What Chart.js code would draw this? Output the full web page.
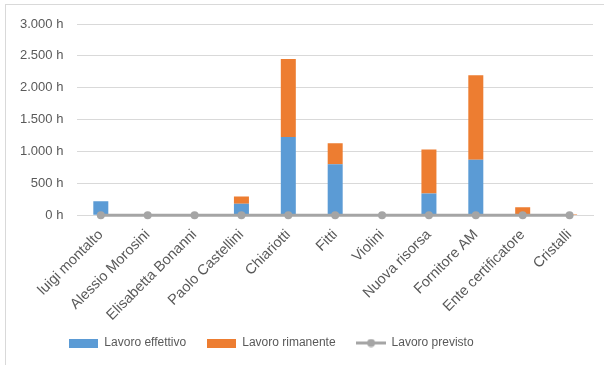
<!DOCTYPE html>
<html>
<head>
<meta charset="utf-8">
<script src="https://cdn.jsdelivr.net/npm/chart.js@4"></script>
<style>
  html, body { margin: 0; padding: 0; background: #fff; overflow: hidden; }
  #wrap { position: relative; width: 604px; height: 365px; }
  #frame { position: absolute; left: 5px; top: 4px; width: 700px; height: 500px; border: 1px solid #D9D9D9; box-sizing: border-box; }
  canvas { position: absolute; left: 0; top: 0; }
</style>
</head>
<body>
<div id="wrap">
  <div id="frame"></div>
  <canvas id="c" width="604" height="365"></canvas>
</div>
<script>
const categories = ["luigi montalto", "Alessio Morosini", "Elisabetta Bonanni", "Paolo Castellini", "Chiariotti", "Fitti", "Violini", "Nuova risorsa", "Fornitore AM", "Ente certificatore", "Cristalli"];
const lavoroEffettivo = [220, 0, 0, 180, 1225, 800, 0, 340, 870, 0, 0];
const lavoroRimanente = [0, 0, 0, 115, 1225, 330, 0, 690, 1325, 125, 15];
const lavoroPrevisto = [0, 0, 0, 0, 0, 0, 0, 0, 0, 0, 0];
const yTicks = [0, 500, 1000, 1500, 2000, 2500, 3000];
const seriesNames = ["Lavoro effettivo", "Lavoro rimanente", "Lavoro previsto"];

const BLUE = "#5B9BD5", ORANGE = "#ED7D31", GRAY = "#A5A5A5", TEXT = "#595959";
const FONT = "'Liberation Sans', Arial, sans-serif";

function boxIcon(color) {
  const c = document.createElement("canvas");
  c.width = 29; c.height = 9;
  const x = c.getContext("2d");
  x.fillStyle = color; x.fillRect(0, 0, 29, 9);
  return c;
}
function lineIcon(color) {
  const c = document.createElement("canvas");
  c.width = 30; c.height = 9;
  const x = c.getContext("2d");
  x.fillStyle = color; x.fillRect(0, 3, 30, 3);
  x.beginPath(); x.arc(15, 4.5, 4, 0, Math.PI * 2); x.fill();
  return c;
}
const icons = [boxIcon(BLUE), boxIcon(ORANGE), lineIcon(GRAY)];

function fmt(v) {
  return String(v).replace(/\B(?=(\d{3})+(?!\d))/g, ".") + " h";
}

const legendShift = {
  id: "legendShift",
  afterLayout(chart) {
    const lg = chart.legend;
    if (lg) {
      const h = lg.bottom - lg.top;
      lg.left -= 28; lg.right -= 28;
      lg.top = 316; lg.bottom = 316 + h;
    }
  }
};

new Chart(document.getElementById("c"), {
  data: {
    labels: categories,
    datasets: [
      { type: "line", label: seriesNames[2], data: lavoroPrevisto, borderColor: GRAY, backgroundColor: GRAY,
        borderWidth: 3, pointRadius: 4, pointHoverRadius: 4, pointBackgroundColor: GRAY, pointBorderWidth: 0,
        order: 0, clip: false },
      { type: "bar", label: seriesNames[0], data: lavoroEffettivo, backgroundColor: BLUE, stack: "s", order: 1,
        barPercentage: 0.64, categoryPercentage: 0.5 },
      { type: "bar", label: seriesNames[1], data: lavoroRimanente, backgroundColor: ORANGE, stack: "s", order: 1,
        barPercentage: 0.64, categoryPercentage: 0.5 }
    ]
  },
  options: {
    responsive: false,
    animation: false,
    layout: { padding: { left: 6, right: 11, top: 24, bottom: -13 } },
    scales: {
      x: {
        stacked: true,
        grid: { display: false, drawTicks: false },
        border: { display: true, color: "#D9D9D9" },
        ticks: { color: TEXT, font: { family: FONT, size: 14.5 }, minRotation: 45, maxRotation: 45, autoSkip: false, padding: 11 }
      },
      y: {
        stacked: true,
        min: 0, max: 3000,
        afterBuildTicks: (axis) => { axis.ticks = yTicks.map(v => ({ value: v })); },
        grid: { color: "#D9D9D9", drawTicks: false },
        border: { display: false },
        ticks: { color: TEXT, font: { family: FONT, size: 13 }, padding: 14, callback: (v) => fmt(v) }
      }
    },
    plugins: {
      tooltip: { enabled: false },
      legend: {
        position: "bottom",
        labels: {
          usePointStyle: true,
          pointStyleWidth: 29,
          boxHeight: 9,
          padding: 21,
          color: TEXT,
          font: { family: FONT, size: 12 },
          generateLabels: (chart) => [0, 1, 2].map(i => {
            const dsIndex = i === 2 ? 0 : i + 1;
            return { text: seriesNames[i], pointStyle: icons[i], fillStyle: "#fff", strokeStyle: "#fff",
                     lineWidth: 0, fontColor: TEXT, datasetIndex: dsIndex, hidden: false };
          })
        }
      }
    }
  },
  plugins: [legendShift]
});
</script>
</body>
</html>
